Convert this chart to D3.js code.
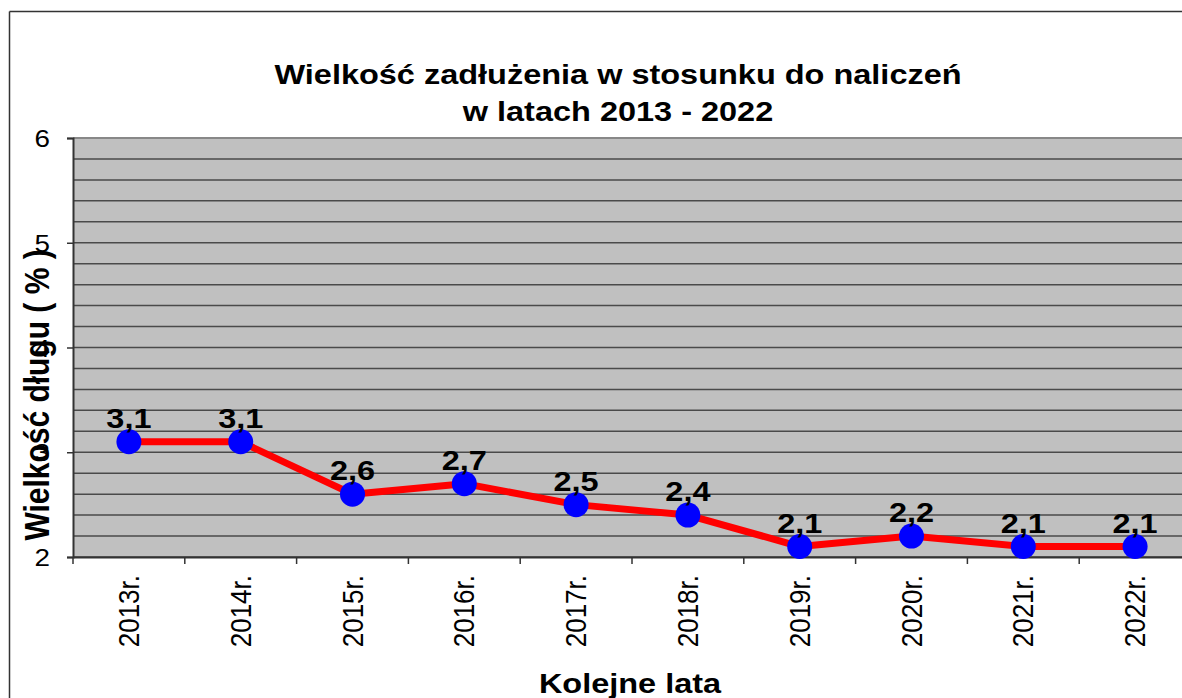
<!DOCTYPE html>
<meta charset="utf-8">
<script src="https://d3js.org/d3.v7.min.js"></script>
<style>
  body { margin: 0; background: #fff; }
  text { font-family: Arial, "Liberation Sans", sans-serif; }
</style>
<div id="chart"></div>
<script>

// data
var years = ["2013r.", "2014r.", "2015r.", "2016r.", "2017r.", "2018r.", "2019r.", "2020r.", "2021r.", "2022r."];
var debt = [3.1, 3.1, 2.6, 2.7, 2.5, 2.4, 2.1, 2.2, 2.1, 2.1];
var yTickLabels = [2, 3, 4, 5, 6];

var W = 1182, H = 698;
var plot = {left: 73, right: 1191, top: 138, bottom: 557};
var sx = 1.16; // the original picture is stretched a bit horizontally

var svg = d3.select("#chart")
  .append("svg")
    .attr("width", W)
    .attr("height", H);

// outer frame (page border)
svg.append("line").attr("x1", 9.5).attr("x2", W).attr("y1", 11.5).attr("y2", 11.5)
  .attr("stroke", "#333").attr("stroke-width", 1.5);
svg.append("line").attr("x1", 9.5).attr("x2", 9.5).attr("y1", 11.5).attr("y2", H)
  .attr("stroke", "#333").attr("stroke-width", 1.5);
// stray glyph from the page above
svg.append("text").text("y")
  .attr("x", 1055).attr("y", -5)
  .style("font-family", "'Liberation Serif', 'Times New Roman', serif")
  .style("font-style", "italic")
  .style("font-size", "22px");

var x = d3.scaleBand()
  .domain(years)
  .range([plot.left, plot.right]);

var y = d3.scaleLinear()
  .domain([2, 6])
  .range([plot.bottom, plot.top]);

// plot background
svg.append("rect")
  .attr("x", plot.left).attr("y", plot.top)
  .attr("width", plot.right - plot.left)
  .attr("height", plot.bottom - plot.top)
  .attr("fill", "#c0c0c0");

// gridlines every 0.2
svg.append("g")
  .selectAll("line")
  .data(y.ticks(20))
  .enter()
  .append("line")
    .attr("x1", plot.left).attr("x2", plot.right)
    .attr("y1", function(d) { return y(d); })
    .attr("y2", function(d) { return y(d); })
    .attr("stroke", function(d) { return d === 6 ? "#888" : "#4a4a4a"; })
    .attr("stroke-width", function(d) { return d === 6 ? 2 : 1.5; });

// Y axis
var yAxis = svg.append("g")
  .attr("transform", "translate(" + plot.left + ",0)")
  .call(d3.axisLeft(y).tickValues(yTickLabels).tickSize(6).tickFormat(d3.format("d")));
yAxis.select(".domain").attr("stroke", "#333").attr("stroke-width", 2);
yAxis.selectAll(".tick line").attr("stroke", "#333").attr("stroke-width", 1.5);
yAxis.selectAll(".tick text")
  .attr("x", null)
  .attr("dy", null)
  .attr("transform", "translate(-23,8.5) scale(" + sx + ",1)")
  .attr("text-anchor", "end")
  .style("font-size", "24px")
  .attr("fill", "#000");

// X axis
var xAxis = svg.append("g")
  .attr("transform", "translate(0," + plot.bottom + ")")
  .call(d3.axisBottom(x).tickSize(0).tickFormat(""));
xAxis.select(".domain").attr("stroke", "#333").attr("stroke-width", 2);

// category separators
svg.append("g")
  .selectAll("line")
  .data(years)
  .enter()
  .append("line")
    .attr("x1", function(d) { return x(d); })
    .attr("x2", function(d) { return x(d); })
    .attr("y1", plot.bottom).attr("y2", plot.bottom + 7)
    .attr("stroke", "#333").attr("stroke-width", 1.5);

// category labels, rotated
svg.append("g")
  .selectAll("text")
  .data(years)
  .enter()
  .append("text")
    .attr("transform", function(d) {
      return "translate(" + (x(d) + x.bandwidth() / 2 + 10) + "," + 575 + ") scale(1.1,1) rotate(-90)";
    })
    .attr("text-anchor", "end")
    .style("font-size", "26px")
    .text(function(d) { return d; });

// line
var line = d3.line()
  .x(function(d, i) { return x(years[i]) + x.bandwidth() / 2; })
  .y(function(d) { return y(d); });

svg.append("path")
  .datum(debt)
  .attr("d", line)
  .attr("fill", "none")
  .attr("stroke", "#ff0000")
  .attr("stroke-width", 7)
  .attr("stroke-linejoin", "round");

// markers
svg.append("g")
  .selectAll("circle")
  .data(debt)
  .enter()
  .append("circle")
    .attr("cx", function(d, i) { return x(years[i]) + x.bandwidth() / 2; })
    .attr("cy", function(d) { return y(d); })
    .attr("r", 12.5)
    .attr("fill", "#0000ff");

// value labels
svg.append("g")
  .selectAll("text")
  .data(debt)
  .enter()
  .append("text")
    .attr("transform", function(d, i) {
      return "translate(" + (x(years[i]) + x.bandwidth() / 2) + "," + (y(d) - 14) + ") scale(" + sx + ",1)";
    })
    .attr("text-anchor", "middle")
    .style("font-size", "28px")
    .style("font-weight", "bold")
    .text(function(d) { return String(d).replace(".", ","); });

// title
svg.append("text")
  .attr("transform", "translate(618,84) scale(" + sx + ",1)")
  .attr("text-anchor", "middle")
  .style("font-size", "28px")
  .style("font-weight", "bold")
  .text("Wielkość zadłużenia w stosunku do naliczeń");
svg.append("text")
  .attr("transform", "translate(618,121) scale(" + sx + ",1)")
  .attr("text-anchor", "middle")
  .style("font-size", "28px")
  .style("font-weight", "bold")
  .text("w latach 2013 - 2022");

// axis titles
svg.append("text")
  .attr("transform", "translate(49,395) scale(" + sx + ",1) rotate(-90)")
  .attr("text-anchor", "middle")
  .style("font-size", "30px")
  .style("font-weight", "bold")
  .text("Wielkość długu ( % )");

svg.append("text")
  .attr("transform", "translate(630,693) scale(" + sx + ",1)")
  .attr("text-anchor", "middle")
  .style("font-size", "28px")
  .style("font-weight", "bold")
  .text("Kolejne lata");

</script>
